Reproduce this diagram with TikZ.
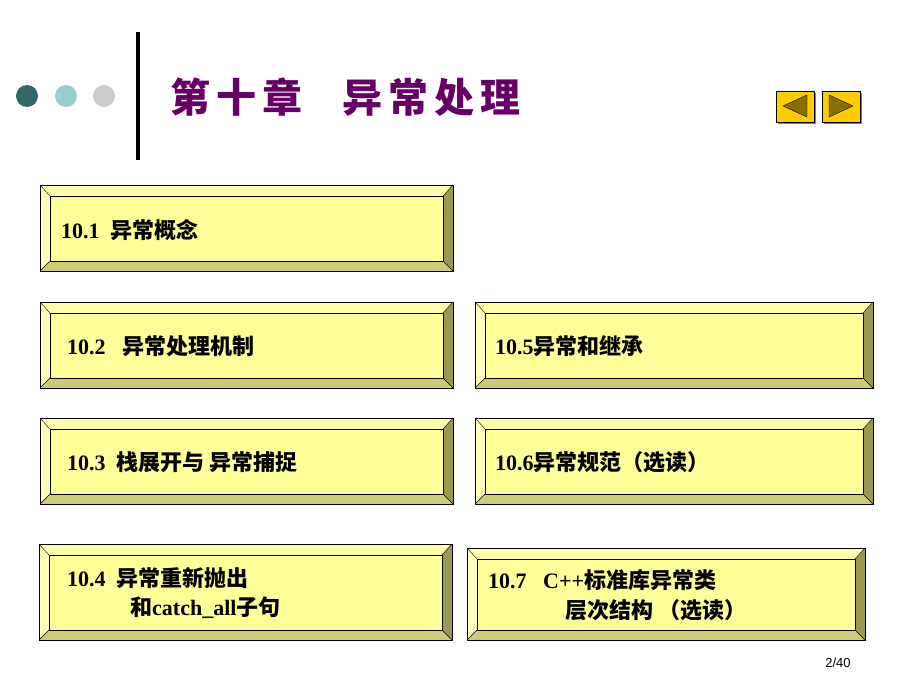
\documentclass[tikz,border=0pt]{standalone}
\usepackage{fontspec}
\setmainfont{Liberation Serif}
\setsansfont{Liberation Sans}
\newfontfamily\cjk{Noto Sans CJK SC}
\newfontfamily\cjkblack{Noto Sans CJK SC Black}
\usetikzlibrary{positioning}
\definecolor{facey}{HTML}{FFFF99}
\definecolor{bevtop}{HTML}{FFFFAA}
\definecolor{bevleft}{HTML}{FFFFBB}
\definecolor{bevbot}{HTML}{CCCC77}
\definecolor{bevright}{HTML}{999955}
\definecolor{titlepurple}{HTML}{660066}
\newcommand*{\bevelbox}[5]{% name, x1, y1, x2, y2
  \fill[bevtop](#2,#3)--(#4,#3)--(#4-10,#3+11)--(#2+10,#3+11)--cycle;
  \fill[bevleft](#2,#3)--(#2+10,#3+11)--(#2+10,#5-10)--(#2,#5)--cycle;
  \fill[bevbot](#2,#5)--(#2+10,#5-10)--(#4-10,#5-10)--(#4,#5)--cycle;
  \fill[bevright](#4,#3)--(#4,#5)--(#4-10,#5-10)--(#4-10,#3+11)--cycle;
  \draw[thin](#2,#3)--(#2+10,#3+11) (#4,#3)--(#4-10,#3+11)
    (#2,#5)--(#2+10,#5-10) (#4,#5)--(#4-10,#5-10);
  \draw[semithick,fill=facey](#2+10,#3+11)rectangle(#4-10,#5-10);
  \draw[semithick](#2,#3)rectangle(#4,#5);
  \coordinate(#1)at(#2+10,#3+11);}
\begin{document}
\begin{tikzpicture}[x=1pt,y=-1pt,
  item/.style={anchor=west,font=\fontsize{22}{26}\selectfont\bfseries,inner sep=0pt},
  btn/.style={draw=black,thin,fill={rgb,255:red,255;green,204;blue,0}}]
  \useasboundingbox(0,0)rectangle(920,690);
  % header
  \fill[fill={rgb,255:red,51;green,102;blue,102}](27,96)circle(11);
  \fill[fill={rgb,255:red,153;green,204;blue,204}](66,96)circle(11);
  \fill[fill={rgb,255:red,204;green,204;blue,204}](104,96)circle(11);
  \draw[line width=4pt](138,32)--(138,160);
  \node[anchor=west,text=titlepurple,font=\cjkblack\fontsize{40}{42}\selectfont,inner sep=0pt](title)
    at(170,97){第\hspace{6pt}十\hspace{6pt}章\hspace{40pt}异\hspace{6pt}常\hspace{6pt}处\hspace{6pt}理};
  \fill[gray](778,93)rectangle(816,124);
  \fill[gray](824,93)rectangle(862,124);
  \draw[btn](776,91)rectangle(814,122);
  \draw[btn](822,91)rectangle(860,122);
  \draw[fill={rgb,255:red,136;green,112;blue,0}](783,106)--(807,95)--(807,117)--cycle;
  \draw[fill={rgb,255:red,136;green,112;blue,0}](853,106)--(829,95)--(829,117)--cycle;
  % boxes
  \bevelbox{b1}{40}{185}{453}{271}
  \bevelbox{b2}{40}{302}{453}{388}
  \bevelbox{b5}{475}{302}{873}{388}
  \bevelbox{b3}{40}{418}{453}{504}
  \bevelbox{b6}{475}{418}{873}{504}
  \bevelbox{b4}{39}{544}{452}{640}
  \bevelbox{b7}{467}{548}{865}{640}
  \node[item](t1)at(61,230){10.1\ \ {\cjk 异常概念}};
  \node[item](t2)at(67,346){10.2\ \ \ {\cjk 异常处理机制}};
  \node[item](t5)at(495,346){10.5{\cjk 异常和继承}};
  \node[item](t3)at(67,462){10.3\ \ {\cjk 栈展开与 异常捕捉}};
  \node[item](t6)at(495,462){10.6{\cjk 异常规范（选读）}};
  \node[item](t4)at(67,578){10.4\ \ {\cjk 异常重新抛出}};
  \node[item](t4b)at(130,608){{\cjk 和}catch\_all{\cjk 子句}};
  \node[item](t7)at(488,580){10.7\ \ \ C++{\cjk 标准库异常类}};
  \node[item](t7b)at(565,610){{\cjk 层次结构 （选读）}};
  \node[font=\sffamily\fontsize{13}{14}\selectfont](page)at(838,663){2/40};
\end{tikzpicture}
\end{document}
